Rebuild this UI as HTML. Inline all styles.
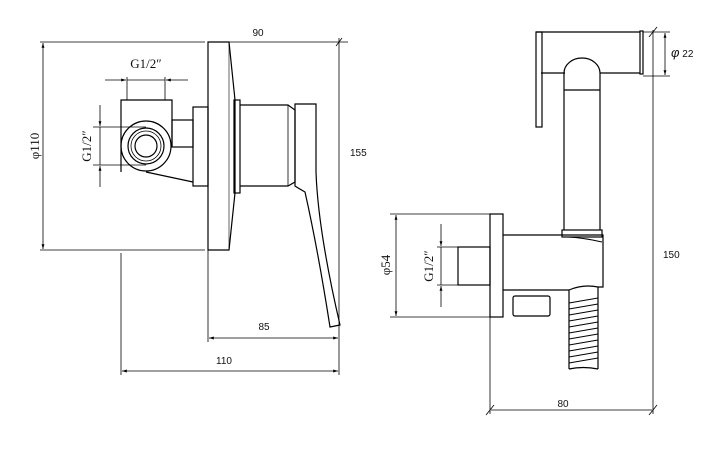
<!DOCTYPE html>
<html><head><meta charset="utf-8"><style>
html,body{margin:0;padding:0;background:#fff;}
svg{display:block;}
text{font-family:"Liberation Sans",sans-serif;font-size:10px;fill:#111;}
.s{font-family:"Liberation Serif",serif;font-size:13px;}
</style></head><body>
<svg width="720" height="449" viewBox="0 0 720 449" xmlns="http://www.w3.org/2000/svg">
<defs>
<marker id="a" viewBox="0 0 10 10" refX="10" refY="5" markerWidth="8" markerHeight="6" orient="auto-start-reverse"><path d="M0,2 L10,5 L0,8 z" fill="#000"/></marker>
</defs>
<g stroke="#000" stroke-width="1" fill="none">
<line x1="40" y1="42" x2="205" y2="42" stroke-width="0.8"/>
<line x1="228" y1="42" x2="348" y2="42" stroke-width="0.8"/>
<line x1="40" y1="250" x2="205" y2="250" stroke-width="0.8"/>
<line x1="43" y1="43" x2="43" y2="249" stroke-width="0.8" marker-start="url(#a)" marker-end="url(#a)"/>
<line x1="339" y1="38" x2="339" y2="375" stroke-width="0.8"/>
<line x1="336" y1="46" x2="342" y2="38" stroke-width="0.8"/>
<line x1="121" y1="253" x2="121" y2="375" stroke-width="0.8"/>
<line x1="208" y1="250" x2="208" y2="342" stroke-width="0.8"/>
<line x1="209" y1="338" x2="338" y2="338" stroke-width="0.8" marker-start="url(#a)" marker-end="url(#a)"/>
<line x1="122" y1="371" x2="338" y2="371" stroke-width="0.8" marker-start="url(#a)" marker-end="url(#a)"/>
<line x1="105" y1="80" x2="126" y2="80" stroke-width="0.8" marker-end="url(#a)"/>
<line x1="188" y1="80" x2="166" y2="80" stroke-width="0.8" marker-end="url(#a)"/>
<line x1="127" y1="80" x2="165" y2="80" stroke-width="0.8"/>
<line x1="127" y1="77" x2="127" y2="100" stroke-width="0.8"/>
<line x1="165" y1="77" x2="165" y2="100" stroke-width="0.8"/>
<line x1="100" y1="105" x2="100" y2="126" stroke-width="0.8" marker-end="url(#a)"/>
<line x1="100" y1="187" x2="100" y2="166" stroke-width="0.8" marker-end="url(#a)"/>
<line x1="100" y1="127" x2="100" y2="165" stroke-width="0.8"/>
<line x1="93" y1="127" x2="146" y2="127" stroke-width="0.8"/>
<line x1="93" y1="165" x2="146" y2="165" stroke-width="0.8"/>
<path d="M208,42 L229,42 L235,100 L235,193 L229,250 L208,250 Z" stroke-width="1.2"/>
<line x1="229" y1="42" x2="229" y2="250" stroke-width="0.6"/>
<rect x="234" y="100" width="6" height="93" stroke-width="1.2"/>
<path d="M240,105 L288,105 L295,110 L295,182 L288,186 L240,186" stroke-width="1.2"/>
<line x1="288" y1="105" x2="288" y2="186" stroke-width="0.8"/>
<path d="M295,104 L316,104 L316,172 Q318,230 340,325 L330,327 Q318,250 305,192 Q298,188 295,186 Z" stroke-width="1.2"/>
<rect x="193" y="107" width="15" height="79" stroke-width="1.2"/>
<rect x="172" y="120" width="21" height="27" stroke-width="1.2"/>
<path d="M121,172 L121,100 L172,100 L172,146" stroke-width="1.2"/>
<path d="M146,172 L193,182" stroke-width="1.2"/>
<circle cx="146" cy="146" r="25" stroke-width="1.2"/>
<circle cx="146" cy="146" r="18" stroke-width="1.2"/>
<circle cx="146" cy="146" r="15" stroke-width="0.8"/>
<circle cx="146" cy="146" r="11" stroke-width="1.2"/>

<line x1="390" y1="214" x2="490" y2="214" stroke-width="0.8"/>
<line x1="390" y1="317" x2="490" y2="317" stroke-width="0.8"/>
<line x1="396" y1="215" x2="396" y2="316" stroke-width="0.8" marker-start="url(#a)" marker-end="url(#a)"/>
<line x1="437" y1="247" x2="458" y2="247" stroke-width="0.8"/>
<line x1="437" y1="285" x2="458" y2="285" stroke-width="0.8"/>
<line x1="441" y1="224" x2="441" y2="246" stroke-width="0.8" marker-end="url(#a)"/>
<line x1="441" y1="307" x2="441" y2="286" stroke-width="0.8" marker-end="url(#a)"/>
<line x1="441" y1="247" x2="441" y2="285" stroke-width="0.8"/>
<line x1="490" y1="317" x2="490" y2="414" stroke-width="0.8"/>
<line x1="653" y1="30" x2="653" y2="414" stroke-width="0.8"/>
<line x1="491" y1="410" x2="652" y2="410" stroke-width="0.8"/>
<line x1="486" y1="415" x2="494" y2="405" stroke-width="0.8"/>
<line x1="649" y1="415" x2="657" y2="405" stroke-width="0.8"/>
<line x1="649" y1="37" x2="657" y2="27" stroke-width="0.8"/>
<line x1="643" y1="32" x2="670" y2="32" stroke-width="0.8"/>
<line x1="643" y1="76" x2="670" y2="76" stroke-width="0.8"/>
<line x1="665" y1="33" x2="665" y2="75" stroke-width="0.8" marker-start="url(#a)" marker-end="url(#a)"/>
<path d="M536,32 L640,32 M541,73 L565,73 M600,73 L640,73" stroke-width="1.2"/>
<rect x="640" y="31" width="3" height="43" stroke-width="1.2"/>
<rect x="536" y="32" width="6" height="95" stroke-width="1.2"/>
<path d="M564,230 L564,73 A18,15 0 0 1 600,73 L600,230" stroke-width="1.2"/>
<line x1="564" y1="90" x2="600" y2="90" stroke-width="1.2"/>
<rect x="562" y="230" width="40" height="7" stroke-width="1.2"/>
<path d="M503,235 L603,235 L603,287 L598,287 Q583,284 569,290 M569,290 L503,290" stroke-width="1.2"/>
<path d="M568,237 Q585,238 602,242" stroke-width="1"/>
<rect x="490" y="214" width="13" height="103" stroke-width="1.2"/>
<rect x="458" y="247" width="32" height="38" stroke-width="1.2"/>
<rect x="513" y="296" width="37" height="20" rx="2" stroke-width="1.2"/>
<path d="M569,290 L569,369 M598,287 L598,369 M569,369 Q583,366 598,369" stroke-width="1.2"/>
<path d="M569,303 L598,298 M569,309 L598,304 M569,315 L598,310 M569,321 L598,316 M569,327 L598,322 M569,333 L598,328 M569,339 L598,334 M569,345 L598,340 M569,351 L598,346 M569,357 L598,352 M569,363 L598,358" stroke-width="0.9"/>
</g>
<text x="258" y="36" text-anchor="middle">90</text>
<text x="350" y="156">155</text>
<text x="264" y="330" text-anchor="middle">85</text>
<text x="224" y="364" text-anchor="middle">110</text>
<text class="s" x="146" y="68" text-anchor="middle">G1/2″</text>
<text class="s" transform="translate(39,146) rotate(-90)" text-anchor="middle">φ110</text>
<text class="s" transform="translate(91,146) rotate(-90)" text-anchor="middle">G1/2″</text>
<text class="s" transform="translate(390,265) rotate(-90)" text-anchor="middle">φ54</text>
<text class="s" transform="translate(433,266) rotate(-90)" text-anchor="middle">G1/2″</text>
<text x="563" y="407" text-anchor="middle">80</text>
<text x="663" y="258">150</text>
<text x="671" y="57"><tspan font-size="13" font-style="italic">φ</tspan> 22</text>
</svg>
</body></html>
